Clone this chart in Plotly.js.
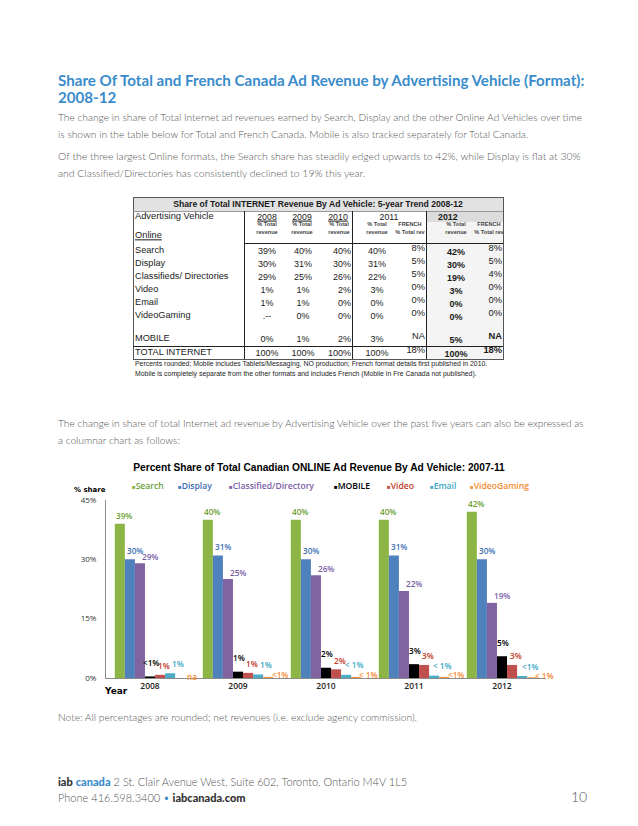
<!DOCTYPE html>
<html>
<head>
<meta charset="utf-8">
<script src="https://cdn.plot.ly/plotly-3.0.1.min.js"></script>
<style>
  html, body { margin:0; padding:0; background:#fff; }
  #page { position:relative; width:638px; height:826px; overflow:hidden; background:#fff; font-family:"Lato","Open Sans",sans-serif; color:#666; }
  .ln { position:absolute; white-space:nowrap; line-height:1; transform:translateY(-50%); }
  .body { font-size:10px; font-weight:300; color:#555; }
  .head { font-size:15px; font-weight:700; color:#3a8ccb; }
  .tb { position:absolute; white-space:nowrap; line-height:1; transform:translateY(-50%); font-family:"Liberation Sans",Arial,sans-serif; color:#1a1a1a; }
  .hl { position:absolute; background:#333; height:1px; }
  .vl { position:absolute; background:#333; width:1px; }
  #chart { position:absolute; left:0; top:450px; width:638px; height:260px; }
</style>
</head>
<body>
<div id="page">
  <div id="text"></div>
  <div id="table"></div>
  <div id="chart"></div>
</div>
<script>
// ---------- chart data ----------
const years = ['2008','2009','2010','2011','2012'];
const seriesNames = ['Search','Display','Classified/Directory','MOBILE','Video','Email','VideoGaming'];
const search     = [39, 40, 40, 40, 42];
const display    = [30, 31, 30, 31, 30];
const classified = [29, 25, 26, 22, 19];
const mobile     = [0.4, 1.6, 2.6, 3.5, 5.5];
const video      = [0.8, 1.3, 2.2, 3.3, 3.3];
const email      = [1.2, 0.9, 0.8, 0.6, 0.5];
const gaming     = [0, 0.3, 0.3, 0.3, 0.2];
const searchLbl     = ['39%','40%','40%','40%','42%'];
const displayLbl    = ['30%','31%','30%','31%','30%'];
const classifiedLbl = ['29%','25%','26%','22%','19%'];
const mobileLbl     = ['<1%','1%','2%','3%','5%'];
const videoLbl      = ['1%','1%','2%','3%','3%'];
const emailLbl      = ['1%','1%','< 1%','< 1%','<1%'];
const gamingLbl     = ['na','<1%','< 1%','<1%','< 1%'];
const yTicks = [0, 15, 30, 45];

// ---------- table data ----------
const tableTitle = 'Share of Total INTERNET Revenue By Ad Vehicle: 5-year Trend  2008-12';
const rowNames = ['Search','Display','Classifieds/ Directories','Video','Email','VideoGaming','MOBILE','TOTAL INTERNET'];
const t2008 = ['39%','30%','29%','1%','1%','.--','0%','100%'];
const t2009 = ['40%','31%','25%','1%','1%','0%','1%','100%'];
const t2010 = ['40%','30%','26%','2%','0%','0%','2%','100%'];
const t2011 = ['40%','31%','22%','3%','0%','0%','3%','100%'];
const f2011 = ['8%','5%','5%','0%','0%','0%','NA','18%'];
const t2012 = ['42%','30%','19%','3%','0%','0%','5%','100%'];
const f2012 = ['8%','5%','4%','0%','0%','0%','NA','18%'];
const tableNotes = ['Percents rounded; Mobile includes Tablets/Messaging, NO production; French format details first published in 2010.',
                    'Mobile is completely separate from the other formats and includes French (Mobile in Fre Canada not published).'];

// ---------- page text ----------
const heading = ['Share Of Total and French Canada Ad Revenue by Advertising Vehicle (Format):', '2008-12'];
const para1 = ['The change in share of Total Internet ad revenues earned by Search, Display and the other Online Ad Vehicles over time',
               'is shown in the table below for Total and French Canada. Mobile is also tracked separately for Total Canada.'];
const para2 = ['Of the three largest Online formats, the Search share has steadily edged upwards to 42%, while Display is flat at 30%',
               'and Classified/Directories has consistently declined to 19% this year.'];
const para3 = ['The change in share of total Internet ad revenue by Advertising Vehicle over the past five years can also be expressed as',
               'a columnar chart as follows:'];
const noteText = 'Note: All percentages are rounded; net revenues (i.e. exclude agency commission).';

// ---------- build page text ----------
const textDiv = document.getElementById('text');
function addLine(parent, html, cls, x, y, fitW) {
  const d = document.createElement('div');
  d.className = 'ln ' + cls;
  d.innerHTML = html;
  d.style.left = x + 'px';
  d.style.top = y + 'px';
  parent.appendChild(d);
  if (fitW) d.dataset.fit = fitW;
  return d;
}
const h1 = addLine(textDiv, heading[0], 'head', 58, 81, 527);
const h2 = addLine(textDiv, heading[1], 'head', 58, 98);
const b1 = addLine(textDiv, para1[0], 'body', 58, 117, 525);
const b2 = addLine(textDiv, para1[1], 'body', 58, 134);
const b3 = addLine(textDiv, para2[0], 'body', 58, 156, 523);
const b4 = addLine(textDiv, para2[1], 'body', 58, 173);
const b5 = addLine(textDiv, para3[0], 'body', 58, 423, 526);
const b6 = addLine(textDiv, para3[1], 'body', 58, 440);
const nt = addLine(textDiv, noteText, 'body', 58, 717);
const f1 = addLine(textDiv, '<b style="color:#333;font-weight:900">iab</b> <b style="color:#3a8ccb;font-weight:900">canada</b> 2 St. Clair Avenue West, Suite 602, Toronto, Ontario M4V 1L5', 'body', 58, 781);
const f2 = addLine(textDiv, 'Phone 416.598.3400 <span style="color:#3a8ccb">&bull;</span> <b style="color:#333;font-weight:900">iabcanada.com</b>', 'body', 58, 797);
f1.style.fontSize = '11px'; f2.style.fontSize = '11px';
const pg = addLine(textDiv, '10', 'body', 571, 797);
pg.style.fontSize = '14px';

function fit(el, others) {
  const target = +el.dataset.fit;
  const w = el.getBoundingClientRect().width;
  const fs = parseFloat(getComputedStyle(el).fontSize);
  const nfs = fs * target / w;
  el.style.fontSize = nfs + 'px';
  (others || []).forEach(o => o.style.fontSize = nfs + 'px');
  return nfs;
}
fit(h1, [h2]);
const bfs = fit(b1, [b2]);
fit(b3, [b4]);
fit(b5, [b6]);
nt.style.fontSize = bfs + 'px';

// ---------- build table ----------
const tbl = document.getElementById('table');
function box(cls, x, y, w, h, bg) {
  const d = document.createElement('div');
  d.className = cls;
  d.style.left = x + 'px'; d.style.top = y + 'px';
  if (w != null) d.style.width = w + 'px';
  if (h != null) d.style.height = h + 'px';
  if (bg) d.style.background = bg;
  tbl.appendChild(d);
  return d;
}
function txt(s, x, y, size, align, opts) {
  opts = opts || {};
  const d = document.createElement('div');
  d.className = 'tb';
  d.textContent = s;
  d.style.fontSize = size + 'px';
  d.style.top = y + 'px';
  if (opts.bold) d.style.fontWeight = 'bold';
  if (opts.u) d.style.textDecoration = 'underline';
  if (opts.color) d.style.color = opts.color;
  tbl.appendChild(d);
  const w = d.getBoundingClientRect().width;
  if (align === 'c') d.style.left = (x - w / 2) + 'px';
  else if (align === 'r') d.style.left = (x - w) + 'px';
  else d.style.left = x + 'px';
  return d;
}
const TL = 133, TR = 503, TT = 197, TB = 359;
box('hl', TL, TT, TR - TL, 14, '#e2e2e2');
box('hl', 426, 211, TR - 426, TB - 211, '#f4f4f4');
box('hl', 426, 211, TR - 426, 11, '#dcdcdc');
box('hl', TL, TT, TR - TL + 1, 1, '#555');
box('hl', TL, TB, TR - TL + 1, 1, '#555');
box('vl', TL, TT, 1, TB - TT, '#555');
box('vl', TR, TT, 1, TB - TT, '#555');
box('hl', TL, 211, TR - TL, 1, '#999');
box('hl', 244, 243, TR - 244, 1, '#222');
box('hl', TL, 346, TR - TL, 1, '#222');
box('vl', 244, 211, 1, TB - 211, '#222');
box('vl', 352, 211, 1, TB - 211, '#222');
box('vl', 426, 211, 1, TB - 211, '#222');
txt(tableTitle, (TL + TR) / 2, 204, 8.6, 'c', {bold: true});
txt('Advertising Vehicle', 135, 217, 9.3, 'l');
txt('Online', 135, 236, 9.3, 'l', {u: true});
const yearHead = [['2008', 267, true], ['2009', 302, true], ['2010', 338, true], ['2011', 389, false]];
yearHead.forEach(h => txt(h[0], h[1], 217, 8.8, 'c', {u: h[2]}));
txt('2012', 438, 217, 8.8, 'l', {bold: true});
const subCols = [[267, '% Total', 'revenue'], [302, '% Total', 'revenue'], [339, '% Total', 'revenue'],
                 [377, '% Total', 'revenue'], [410, 'FRENCH', '% Total rev'], [456, '% Total', 'revenue'], [489, 'FRENCH', '% Total rev']];
subCols.forEach(c => { txt(c[1], c[0], 225, 5.6, 'c', {bold: true, color: '#444'}); txt(c[2], c[0], 233, 5.6, 'c', {bold: true, color: '#444'}); });
const rowY = [251, 264, 277, 290, 303, 316, 339, 353];
rowNames.forEach((n, i) => {
  txt(n, 135, rowY[i], 9.2, 'l', {color: '#222'});
  txt(t2008[i], 267, rowY[i], 9, 'c', {color: '#222'});
  txt(t2009[i], 303, rowY[i], 9, 'c', {color: '#222'});
  txt(t2010[i], 351, rowY[i], 9, 'r', {color: '#222'});
  txt(t2011[i], 377, rowY[i], 9, 'c', {color: '#222'});
  txt(f2011[i], 425, rowY[i] - 2, 9.3, 'r', {color: '#222'});
  txt(t2012[i], 456, rowY[i] + 1, 9, 'c', {bold: true});
  txt(f2012[i], 502, rowY[i] - 2, 9.3, 'r', {bold: f2012[i] === 'NA' || i === 7});
});
txt(tableNotes[0], 135, 364, 6.9, 'l', {color: '#222'});
txt(tableNotes[1], 135, 374, 6.9, 'l', {color: '#222'});

// ---------- chart ----------
const barColors  = ['#8db546', '#4f81bd', '#8064a2', '#000000', '#c0504d', '#4bacc6', '#f79646'];
const lblColors  = ['#6e9f35', '#3d6fb5', '#7b5ea6', '#000000', '#c0392b', '#3aa7c4', '#f58a2e'];
const values = [search, display, classified, mobile, video, email, gaming];
const labels = [searchLbl, displayLbl, classifiedLbl, mobileLbl, videoLbl, emailLbl, gamingLbl];
// label placement style per series: horizontal nudge (px) and height above bar top (px)
const lblDx = [4, 5, 10, 1, 4, 8, 12];
const lblDy = [8, 9, 7, 14, 9, 10, 2];
const PL = 106, PW = 440, PH = 178, BARGAP = 0.2;
const barW = PW / years.length * (1 - BARGAP) / seriesNames.length;

const traces = seriesNames.map((n, i) => ({
  type: 'bar', name: n, x: years, y: values[i],
  marker: {color: barColors[i], line: {width: 0}},
  hoverinfo: 'none', showlegend: false
}));
const annotations = [];
seriesNames.forEach((n, i) => {
  years.forEach((yr, j) => {
    annotations.push({
      xref: 'x', yref: 'y', x: j, y: values[i][j], xanchor: 'center', yanchor: 'middle',
      xshift: (i - (seriesNames.length - 1) / 2) * barW + lblDx[i], yshift: lblDy[i],
      showarrow: false, text: labels[i][j],
      font: {family: 'Open Sans, sans-serif', size: 8.2, color: lblColors[i], weight: 600}
    });
  });
});
const legendX = [130, 176, 227, 332, 385, 428, 468];
seriesNames.forEach((n, i) => annotations.push({
  xref: 'paper', yref: 'paper', x: (legendX[i] - PL) / PW, y: 1 + 14 / PH, xanchor: 'left', yanchor: 'middle',
  showarrow: false,
  text: '<span style="font-size:6px;color:' + barColors[i] + '">■</span>' + n,
  font: {family: 'Open Sans, sans-serif', size: 8.6, color: lblColors[i], weight: 600}
}));
annotations.push({xref: 'paper', yref: 'paper', x: (90 - PL) / PW, y: 1 + 10 / PH, xanchor: 'center', yanchor: 'middle',
  showarrow: false, text: '<b>% share</b>', font: {family: 'DejaVu Sans, sans-serif', size: 7, color: '#000'}});
annotations.push({xref: 'paper', yref: 'paper', x: (116 - PL) / PW, y: -13 / PH, xanchor: 'center', yanchor: 'middle',
  showarrow: false, text: '<b>Year</b>', font: {family: 'DejaVu Sans, sans-serif', size: 9, color: '#000', weight: 900}});
const layout = {
  width: 638, height: 260,
  margin: {l: PL, r: 638 - PL - PW, t: 50, b: 32, pad: 0},
  paper_bgcolor: 'rgba(0,0,0,0)', plot_bgcolor: 'rgba(0,0,0,0)',
  title: {text: '<b>Percent Share of Total Canadian ONLINE Ad Revenue By Ad Vehicle: 2007-11</b>',
          font: {family: 'Liberation Sans, Arial, sans-serif', size: 10.2, color: '#000'},
          xref: 'container', x: 319 / 638, xanchor: 'center', yref: 'container', y: 1 - 17 / 260, yanchor: 'middle'},
  barmode: 'group', bargap: BARGAP, bargroupgap: 0,
  xaxis: {type: 'category', range: [-0.5, 4.5], showline: true, linecolor: '#8c8c8c', linewidth: 1,
          ticks: '', tickfont: {family: 'Open Sans, sans-serif', size: 8.5, color: '#222', weight: 600}, fixedrange: true},
  yaxis: {range: [0, 45], tickvals: yTicks, ticktext: yTicks.map(v => v + '%'), showline: true, linecolor: '#8c8c8c',
          linewidth: 1, showgrid: false, zeroline: false, ticks: '', ticklabelstandoff: 7,
          tickfont: {family: 'Open Sans, sans-serif', size: 8, color: '#333'}, fixedrange: true},
  annotations: annotations,
  showlegend: false
};
Plotly.newPlot('chart', traces, layout, {displayModeBar: false, staticPlot: true});
</script>
</body>
</html>
